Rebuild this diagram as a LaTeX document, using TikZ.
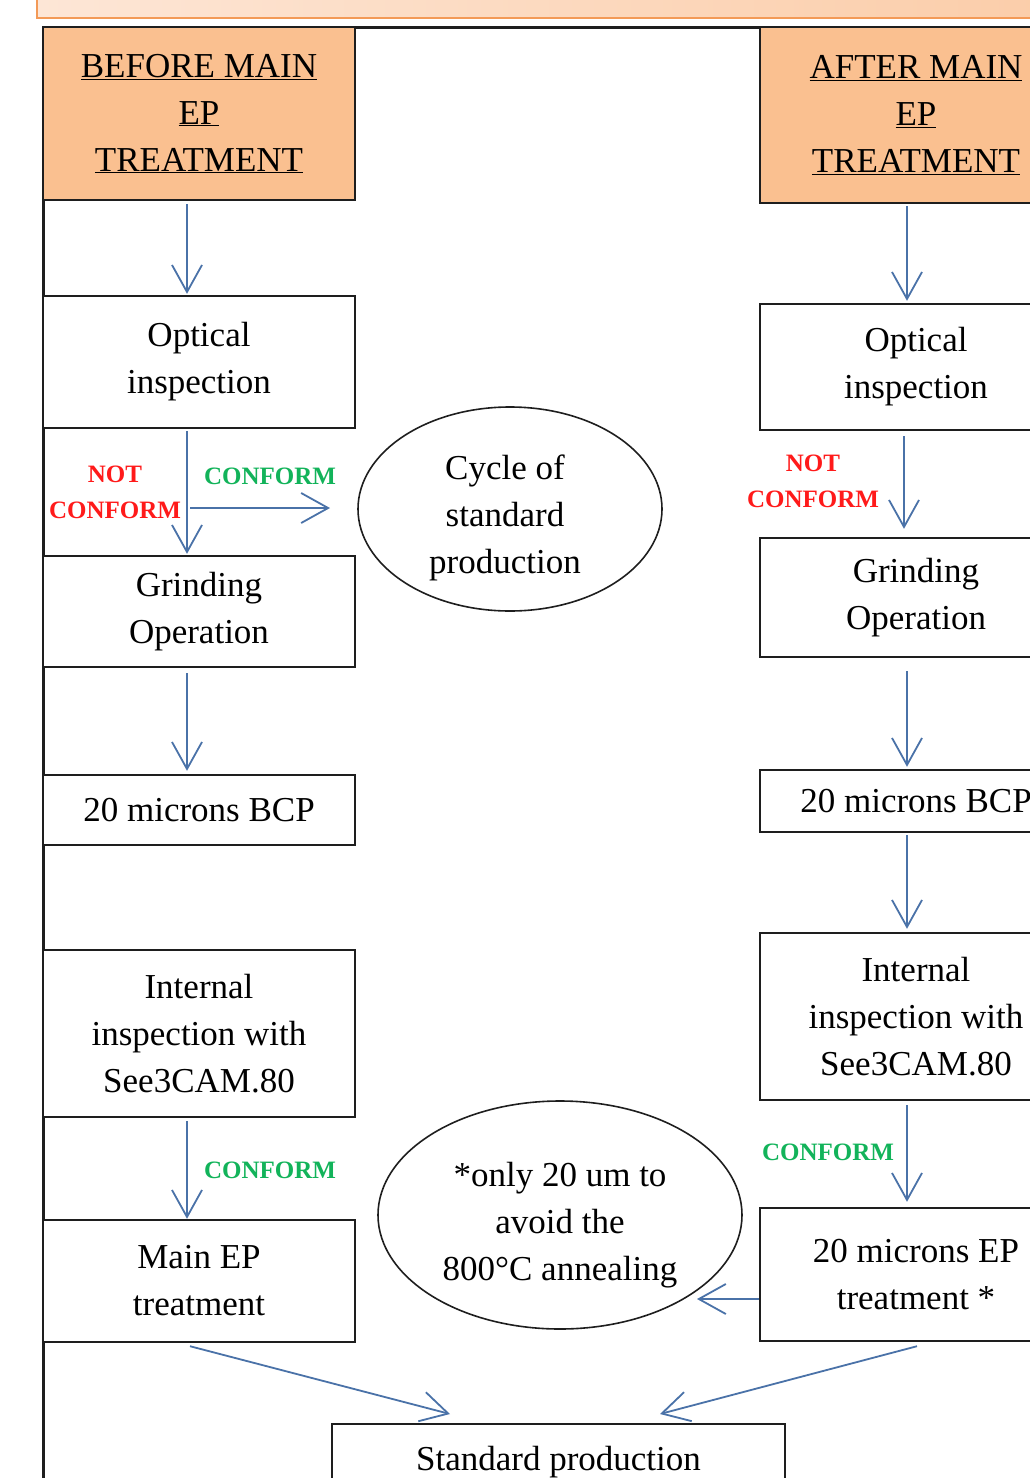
\documentclass[tikz,border=0pt]{standalone}
\usepackage{fontspec}
\setmainfont{Liberation Serif}
\usetikzlibrary{arrows.meta,shapes.geometric,calc}
\definecolor{hdrfill}{HTML}{FAC090}
\definecolor{barL}{HTML}{FDE6D6}
\definecolor{barR}{HTML}{FBCDA9}
\definecolor{barline}{HTML}{F39A57}
\definecolor{arrblue}{HTML}{4A72A8}
\definecolor{okgreen}{HTML}{12B35A}
\definecolor{nogred}{HTML}{FF1A1A}
\definecolor{frame}{HTML}{1E1E1E}
\tikzset{
  box/.style={draw=frame, line width=2.4pt, fill=white, rectangle, inner sep=0pt,
    minimum width=312pt, align=center, font=\fontsize{35}{47}\selectfont},
  hdr/.style={box, fill=hdrfill},
  ell/.style={draw=frame, line width=1.6pt, ellipse, inner sep=0pt},
  arr/.style={draw=arrblue, line width=1.8pt, -{Straight Barb[length=27pt,width=30pt,line width=1.8pt]}},
  okl/.style={text=okgreen, font=\bfseries\fontsize{25}{36}\selectfont, inner sep=0pt},
  nol/.style={text=nogred, font=\bfseries\fontsize{25}{36}\selectfont, inner sep=0pt, align=center},
  plain/.style={font=\fontsize{35}{47}\selectfont, inner sep=0pt, align=center}
}
\begin{document}
\begin{tikzpicture}[x=1pt,y=-1pt]
\useasboundingbox (0,0) rectangle (1030,1478);
\clip (0,0) rectangle (1030,1478);
% top bar
\shade[left color=barL, right color=barR, draw=barline, line width=1.5pt] (37,-20) rectangle (1060,18);
% outer frame
\draw[frame, line width=3pt] (43,1500) -- (43,27) -- (1060,27);
% left column
\node[hdr, minimum height=173pt] (hdrL) at (199,113.5)
  {\underline{BEFORE MAIN}\\\underline{EP}\\\underline{TREATMENT}};
\node[box, minimum height=132pt] (optL) at (199,362) {Optical\\inspection};
\node[box, minimum height=111pt] (grL) at (199,611.5) {Grinding\\Operation};
\node[box, minimum height=70pt] (bcpL) at (199,810) {20 microns BCP};
\node[box, minimum height=167pt] (intL) at (199,1033.5) {Internal\\inspection with\\See3CAM.80};
\node[box, minimum height=122pt] (epL) at (199,1281) {Main EP\\treatment};
% right column
\node[hdr, minimum height=176pt] (hdrR) at (916,115)
  {\underline{AFTER MAIN}\\\underline{EP}\\\underline{TREATMENT}};
\node[box, minimum height=126pt] (optR) at (916,367) {Optical\\inspection};
\node[box, minimum height=119pt] (grR) at (916,597.5) {Grinding\\Operation};
\node[box, minimum height=62pt] (bcpR) at (916,801) {20 microns BCP};
\node[box, minimum height=167pt] (intR) at (916,1016.5) {Internal\\inspection with\\See3CAM.80};
\node[box, minimum height=133pt] (epR) at (916,1274.5) {20 microns EP\\treatment *};
% bottom box
\node[box, minimum width=453pt, minimum height=130pt, anchor=north] (std) at (558.5,1423) {};
\node[plain] (stdt) at (558.5,1462) {Standard production};
% ellipses
\node[ell, minimum width=304pt, minimum height=204pt] (cyc) at (510,509) {};
\node[plain] (cyct) at (505,518) {Cycle of\\standard\\production};
\node[ell, minimum width=364pt, minimum height=228pt] (ann) at (560,1215) {};
\node[plain] (annt) at (560,1225) {*only 20 um to\\avoid the\\800°C annealing};
% left arrows
\draw[arr] ([xshift=-12pt,yshift=-3pt]hdrL.south) -- ([xshift=-12pt,yshift=1pt]optL.north);
\draw[arr] ([xshift=-12pt,yshift=-2pt]optL.south) -- ([xshift=-12pt,yshift=1pt]grL.north);
\coordinate (brL) at (190,508);
\coordinate (brLend) at (330,508);
\draw[arr] (brL) -- (brLend);
\draw[arr] ([xshift=-12pt,yshift=-5pt]grL.south) -- ([xshift=-12pt,yshift=3pt]bcpL.north);
\draw[arr] ([xshift=-12pt,yshift=-3pt]intL.south) -- ([xshift=-12pt]epL.north);
% right arrows
\draw[arr] ([xshift=-9pt,yshift=-2pt]hdrR.south) -- ([xshift=-9pt,yshift=2pt]optR.north);
\draw[arr] ([xshift=-12pt,yshift=-5pt]optR.south) -- ([xshift=-12pt,yshift=8pt]grR.north);
\draw[arr] ([xshift=-9pt,yshift=-13pt]grR.south) -- ([xshift=-9pt,yshift=2pt]bcpR.north);
\draw[arr] ([xshift=-9pt,yshift=-2pt]bcpR.south) -- ([xshift=-9pt,yshift=3pt]intR.north);
\draw[arr] ([xshift=-9pt,yshift=-4pt]intR.south) -- ([xshift=-9pt,yshift=5pt]epR.north);
\coordinate (annTip) at (697,1299);
\draw[arr] ([yshift=-24.5pt]epR.west) -- (annTip);
% bottom diagonal arrows
\coordinate (stdL) at (450,1414);
\coordinate (stdR) at (660,1414);
\draw[arr] ([xshift=-9pt,yshift=-3pt]epL.south) -- (stdL);
\draw[arr] ([xshift=1pt,yshift=-4pt]epR.south) -- (stdR);
% labels
\node[nol] (nc1) at (115,492) {NOT\\CONFORM};
\node[okl] (ok1) at (270,476) {CONFORM};
\node[nol] (nc2) at (813,481) {NOT\\CONFORM};
\node[okl] (ok2) at (270,1170) {CONFORM};
\node[okl] (ok3) at (828,1152) {CONFORM};
\end{tikzpicture}
\end{document}
